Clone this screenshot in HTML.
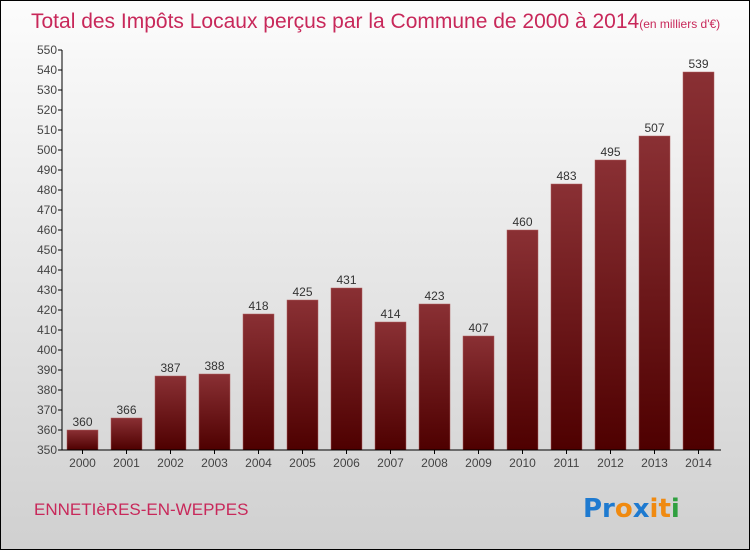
<!DOCTYPE html>
<html><head><meta charset="utf-8"><style>
body{margin:0}
#c{width:748px;height:548px;border:1px solid #000;background:linear-gradient(#fcfcfc,#d0d0d0);position:relative;overflow:hidden;font-family:"Liberation Sans",sans-serif}
</style></head><body>
<div id="c">
<svg id="s" width="748" height="548">
<defs><linearGradient id="g" x1="0" y1="0" x2="0" y2="1"><stop offset="0" stop-color="#8a3034"/><stop offset="1" stop-color="#4e0000"/></linearGradient></defs>
<text x="30" y="27" font-size="21" fill="#c8285a">Total des Impôts Locaux perçus par la Commune de 2000 à 2014<tspan font-size="12">(en milliers d'€)</tspan></text>
<text x="33" y="514" font-size="17" fill="#c8285a">ENNETIèRES-EN-WEPPES</text>
<g font-size="26" font-weight="bold" font-family="'DejaVu Sans',sans-serif">
<text x="582" y="516"><tspan fill="#1e7ad0">Pr</tspan><tspan fill="#f08a10">o</tspan><tspan fill="#1e7ad0">x</tspan><tspan fill="#f08a10">i</tspan><tspan fill="#f08a10">t</tspan><tspan fill="#30a040">i</tspan></text></g>
<g id="bars"></g><g id="axes"></g>
</svg>
</div>
<script>
const years=["2000","2001","2002","2003","2004","2005","2006","2007","2008","2009","2010","2011","2012","2013","2014"];
const values=[360,366,387,388,418,425,431,414,423,407,460,483,495,507,539];
const yTicks=[350,360,370,380,390,400,410,420,430,440,450,460,470,480,490,500,510,520,530,540,550];
const NS="http://www.w3.org/2000/svg";
const y=v=>449-(v-350)*2;
const x=i=>66+i*44;
const bars=document.getElementById('bars'),axes=document.getElementById('axes');
function mk(t,a,p){const e=document.createElementNS(NS,t);for(const k in a)e.setAttribute(k,a[k]);p.appendChild(e);return e;}
values.forEach((v,i)=>{
 const r=mk('rect',{x:x(i),y:y(v),width:31,height:449-y(v),fill:'url(#g)',stroke:'#b06060','stroke-width':0.5},bars);
 
 
 const t=mk('text',{x:x(i)+15.5,y:y(v)-4,'font-size':12,'text-anchor':'middle',fill:'#333'},bars);t.textContent=v;
 
 
 const l=mk('text',{x:x(i)+15.5,y:466,'font-size':12,'text-anchor':'middle',fill:'#444'},axes);l.textContent=years[i];
 
 
 mk('line',{x1:x(i)+15.5,x2:x(i)+15.5,y1:449,y2:453,stroke:'#000'},axes);
});
yTicks.forEach(v=>{
 mk('line',{x1:57,x2:61,y1:y(v),y2:y(v),stroke:'#000'},axes);
 const t=mk('text',{x:56,y:y(v)+4,'font-size':12,'text-anchor':'end',fill:'#444'},axes);t.textContent=v;
 
 
});
const ya=mk('line',{x1:61,x2:61,y1:49,y2:449,stroke:'#000'},axes);


const xa=mk('line',{x1:61,x2:720,y1:449,y2:449,stroke:'#000'},axes);


</script>
</body></html>
